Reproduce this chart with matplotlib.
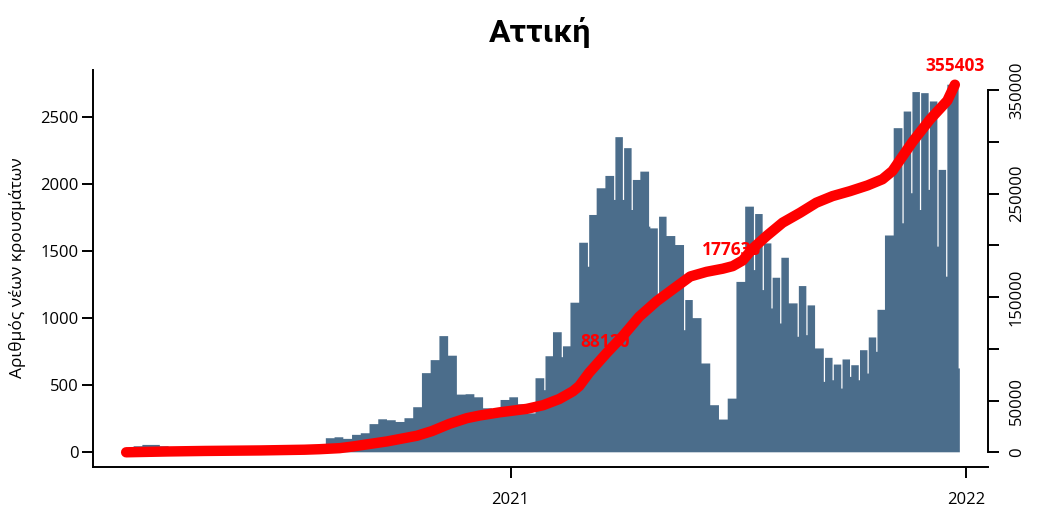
import numpy as np
import pandas as pd
import matplotlib
matplotlib.use("Agg")
import matplotlib.pyplot as plt
import matplotlib.dates as mdates

plt.rcParams['font.family'] = ['Open Sans', 'DejaVu Sans']

title = "Αττική"
ylabel = "Αριθμός νέων κρουσμάτων"

# Daily new cases, read as weekly blocks (one lower reporting day per week where visible)
first_week = "2020-02-27"
weekly_cases = [
    5, 45, 55, 55, 45, 25, 15, 12, 10, 8,
    6, 6, 8, 10, 12, 15, 20, 25, 30, 30,
    35, 40, 40, 105, 112, 100, 130, 142, 210, 246,
    239, 226, 254, 336, 590, 687, 866, 720, 430, 433,
    410, 328, 320, 390, 410, 358, 290, 552, 716, 895,
    790, 1115, 1562, 1769, 1968, 2060, 2349, 2267, 2030, 2092,
    1669, 1756, 1612, 1545, 1135, 1000, 662, 351, 244, 400,
    1270, 1831, 1776, 1557, 1301, 1450, 1110, 1239, 1095, 774,
    704, 654, 692, 649, 761, 856, 1062, 1616, 2416, 2540,
    2685, 2677, 2615, 2105, 2740,
]
weekly_low_day = [
    None, None, None, None, None, None, None, None, None, None,
    None, None, None, None, None, None, None, None, None, None,
    None, None, None, None, None, None, None, None, None, None,
    None, None, None, None, None, None, None, None, None, None,
    None, None, None, None, None, None, None, None, 463, None,
    709, None, None, 1383, None, None, 1881, 1881, 1806, None,
    1682, 1159, None, None, 910, None, None, None, None, None,
    None, None, 1358, 1209, 1072, 960, None, 861, 873, None,
    525, 537, 475, 562, 537, 587, 749, None, None, 1707,
    1931, 1806, 1956, 1533, 1309,
]
final_days = [2740, 2740, 2740, 625]

# Cumulative cases (right axis)
cum_dates = [
    "2020-02-28", "2020-04-01", "2020-05-01", "2020-06-15", "2020-07-20",
    "2020-08-01", "2020-08-17", "2020-08-27", "2020-09-07", "2020-09-24",
    "2020-10-18", "2020-10-30", "2020-11-13", "2020-11-27", "2020-12-07",
    "2020-12-23", "2021-01-14", "2021-01-27", "2021-02-09", "2021-02-20",
    "2021-02-25", "2021-03-05", "2021-03-19", "2021-04-01", "2021-04-14",
    "2021-04-28", "2021-05-11", "2021-05-25", "2021-06-07", "2021-06-20",
    "2021-06-28", "2021-07-06", "2021-07-14", "2021-07-25", "2021-08-07",
    "2021-08-21", "2021-09-03", "2021-09-16", "2021-09-30", "2021-10-14",
    "2021-10-26", "2021-11-03", "2021-11-19", "2021-12-03", "2021-12-17",
    "2021-12-23",
]
cum_values = [
    0, 800, 1300, 1800, 2500,
    3000, 4000, 5500, 7500, 10500,
    16000, 20500, 27500, 33000, 35500,
    38600, 42000, 45500, 51500, 59000,
    64000, 77000, 96000, 112500, 131000,
    146000, 157600, 170000, 174500, 177500,
    180000, 185500, 197000, 209000, 222000,
    231600, 241300, 247700, 252500, 258000,
    264000, 272000, 300000, 321700, 340000,
    355403,
]

label_dates = ["2021-03-18", "2021-06-27", "2021-12-23"]
label_values = [88120, 177635, 355403]

left_ticks = [0, 500, 1000, 1500, 2000, 2500]
right_ticks = [0, 50000, 100000, 150000, 200000, 250000, 300000, 350000]
right_tick_labels = ["0", "50000", "", "150000", "", "250000", "", "350000"]
x_ticks = ["2021-01-01", "2022-01-01"]
x_tick_labels = ["2021", "2022"]

bar_color = "#4b6d8b"
line_color = "#ff0000"

# ---- build daily series
daily = []
for v, lo in zip(weekly_cases, weekly_low_day):
    daily.append(v if lo is None else lo)
    daily.extend([v] * 6)
daily.extend(final_days)
edges = mdates.date2num(pd.date_range(first_week, periods=len(daily) + 1, freq="D"))

cx = mdates.date2num(pd.to_datetime(cum_dates))
lx = mdates.date2num(pd.to_datetime(label_dates))

fig = plt.figure(figsize=(10.58, 5.18), dpi=100)
ax = fig.add_axes([93 / 1058, 1 - 467 / 518, (988 - 93) / 1058, (467 - 70) / 518])
ax.stairs(daily, edges, fill=True, color=bar_color, linewidth=0)

xr = cx.max() - cx.min()
ax.set_xlim(cx.min() - 0.04 * xr, cx.max() + 0.04 * xr)
ymax = max(daily)
ax.set_ylim(-0.04 * ymax, 1.04 * ymax)

for s in ["top", "right"]:
    ax.spines[s].set_visible(False)
for s in ["left", "bottom"]:
    ax.spines[s].set_linewidth(1.4)
ax.set_yticks(left_ticks)
ax.set_yticklabels([str(t) for t in left_ticks])
ax.set_xticks(mdates.date2num(pd.to_datetime(x_ticks)))
ax.set_xticklabels(x_tick_labels)
ax.tick_params(axis="y", length=8, width=1.4, pad=2.5, labelsize=12)
ax.tick_params(axis="x", length=8, width=1.4, pad=10, labelsize=12)

ax2 = ax.twinx()
ax2.plot(cx, cum_values, color=line_color, lw=7.5, solid_capstyle="round",
         solid_joinstyle="round", zorder=3)
cmax = max(cum_values)
ax2.set_ylim(-0.04 * cmax, 1.04 * cmax)
for s in ["top", "left", "bottom"]:
    ax2.spines[s].set_visible(False)
ax2.spines["right"].set_linewidth(1.4)
ax2.spines["right"].set_bounds(right_ticks[0], right_ticks[-1])
ax2.set_yticks(right_ticks)
ax2.set_yticklabels(right_tick_labels, rotation=90, va="center")
ax2.tick_params(axis="y", length=8, width=1.4, pad=7, labelsize=12)

for d, v in zip(lx, label_values):
    ax2.annotate(str(v), xy=(d, v), xytext=(0, 13.5), textcoords="offset points",
                 ha="center", va="center", color=line_color, fontweight="bold",
                 fontsize=12.5, zorder=2)

fig.text(18 / 1058, 1 - 268 / 518, ylabel, rotation=90, ha="center", va="center",
         fontsize=12.5)
fig.text(540 / 1058, 1 - 33 / 518, title, ha="center", va="center",
         fontsize=23, fontweight="bold", family=["Roboto", "DejaVu Sans"])

fig.savefig("out.png", dpi=100)
